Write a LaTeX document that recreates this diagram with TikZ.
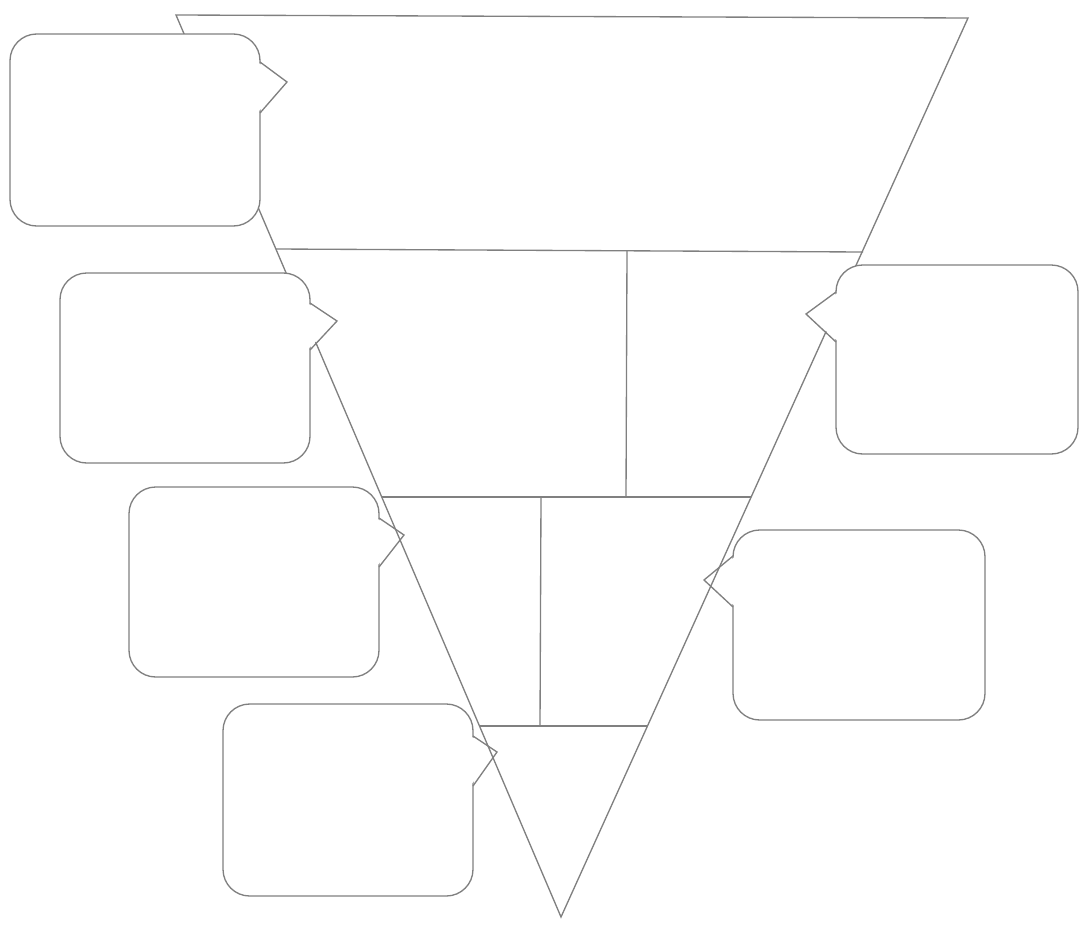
\documentclass[tikz,border=0pt]{standalone}
\begin{document}
\begin{tikzpicture}[x=0.75pt,y=-0.75pt,
  ln/.style={draw=black!50,line width=1pt},
  callbox/.style={ln,fill=white,rounded corners=20pt}]
\useasboundingbox (0,0) rectangle (1080,928);
% funnel
\coordinate (tl) at (176,15);
\coordinate (tr) at (968,18);
\coordinate (ap) at (561,917);
\coordinate (a1) at (276,249);
\coordinate (b1) at (863,252);
\coordinate (a2) at (382,497);
\coordinate (b2) at (751,497);
\coordinate (a3) at (480,726);
\coordinate (b3) at (648,726);
\coordinate (v1t) at (627,250);
\coordinate (v1b) at (626,497);
\coordinate (v2t) at (541,497);
\coordinate (v2b) at (540,726);
\draw[ln] (tl) -- (tr) -- (ap) -- cycle;
\draw[ln] (a1) -- (b1);
\draw[ln] (a2) -- (b2);
\draw[ln] (a3) -- (b3);
\draw[ln] (v1t) -- (v1b);
\draw[ln] (v2t) -- (v2b);
% callout 1
\path[callbox] (10,34) rectangle (260,226);
\fill[white] (257,62) -- (287,82) -- (257,113) -- cycle;
\draw[ln] (260,62) -- (287,82) -- (260,113);
% callout 2
\path[callbox] (60,273) rectangle (310,463);
\fill[white] (307,303) -- (337,321) -- (307,350) -- cycle;
\draw[ln] (310,303) -- (337,321) -- (310,350);
% callout 3
\path[callbox] (129,487) rectangle (379,677);
\fill[white] (376,518) -- (404,535) -- (376,567) -- cycle;
\begin{scope}
\clip (380,518) -- (404,535) -- (380,567) -- cycle;
\draw[ln] (tl) -- (ap);
\end{scope}
\draw[ln] (379,518) -- (404,535) -- (379,567);
% callout 4
\path[callbox] (223,704) rectangle (473,896);
\fill[white] (470,736) -- (497,752) -- (470,786) -- cycle;
\begin{scope}
\clip (474,736) -- (497,752) -- (474,786) -- cycle;
\draw[ln] (tl) -- (ap);
\end{scope}
\draw[ln] (473,736) -- (497,752) -- (473,786);
% callout 5
\path[callbox] (836,265) rectangle (1078,454);
\fill[white] (839,292) -- (806,314) -- (839,342) -- cycle;
\draw[ln] (836,292) -- (806,314) -- (836,342);
% callout 6
\path[callbox] (733,530) rectangle (985,720);
\fill[white] (736,556) -- (704,580) -- (736,607) -- cycle;
\begin{scope}
\clip (732,556) -- (704,580) -- (732,607) -- cycle;
\draw[ln] (tr) -- (ap);
\end{scope}
\draw[ln] (733,556) -- (704,580) -- (733,607);
\end{tikzpicture}
\end{document}
